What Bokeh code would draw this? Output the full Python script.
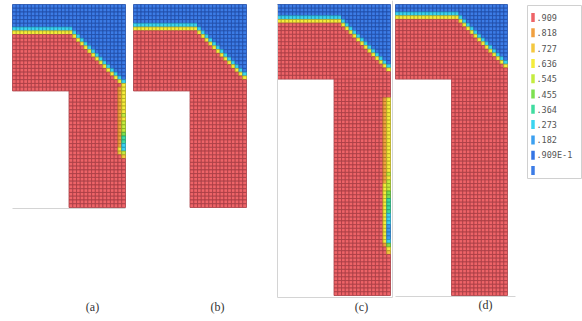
from bokeh.plotting import figure
from bokeh.models import Range1d, ColumnDataSource
from bokeh.embed import file_html
from bokeh.resources import INLINE
from bokeh.core.properties import value

# ---------------- colour scale (legend) ----------------
level_labels = [".909", ".818", ".727", ".636", ".545", ".455", ".364", ".273", ".182", ".909E-1", ""]
level_values = [0.909, 0.818, 0.727, 0.636, 0.545, 0.455, 0.364, 0.273, 0.182, 0.0909, 0.0]
level_colors = ["#ee6468", "#f0a040", "#f4c840", "#f4ec3c", "#c4ec40", "#7ee050",
                "#40dca0", "#3cd4f0", "#3ca0f0", "#3474e4", "#3c7ce6"]
line_colors = ["#a83c44", "#b07020", "#b08e20", "#b0a820", "#88a820", "#50a030",
               "#209c70", "#2094b0", "#2070b0", "#1c48a8", "#1f4ca8"]

panel_labels = ["(a)", "(b)", "(c)", "(d)"]

# ---------------- mesh description ----------------
mesh_cols = [30, 30, 30, 30]
mesh_rows = [54, 54, 78, 78]
arm_rows = [23, 23, 20, 20]
cut_cols = [15, 15, 15, 15]

# row index (from top) of the first transition cell of the free surface, per column
top_a = [6, 6, 6, 6, 6, 6, 6, 6, 6, 6, 6, 6, 6, 6, 6, 6, 7, 8, 9, 10, 11, 12, 13, 14, 15, 16, 17, 18, 19, 20]
top_b = [5, 5, 5, 5, 5, 5, 5, 5, 5, 5, 5, 5, 5, 5, 5, 5, 5, 6, 7, 8, 9, 10, 11, 12, 13, 14, 15, 16, 17, 18]
top_c = [3, 3, 3, 3, 3, 3, 3, 3, 3, 3, 3, 3, 3, 3, 3, 3, 3, 4, 5, 6, 7, 8, 9, 10, 11, 12, 13, 14, 15, 16]
top_d = [2, 2, 2, 2, 2, 2, 2, 2, 2, 2, 2, 2, 2, 2, 2, 2, 2, 3, 4, 5, 6, 7, 8, 9, 10, 11, 12, 13, 14, 15]

# wall film (volume fraction) along the right wall: column -> (first row, values)
film_a_col29 = [0.66, 0.66, 0.66, 0.66, 0.66, 0.64, 0.66, 0.6, 0.66, 0.6, 0.58, 0.55,
                0.5, 0.45, 0.38, 0.33, 0.33, 0.62, 0.8]
film_a_col28 = [0.86, 0.86, 0.86, 0.86, 0.86, 0.86, 0.86, 0.86, 0.86, 0.86, 0.86, 0.86,
                0.86, 0.86, 0.86, 0.86, 0.7, 0.8, 0.95]
film_c_col29 = [0.66, 0.66, 0.66, 0.66, 0.66, 0.66, 0.66, 0.66, 0.66, 0.66, 0.66, 0.66, 0.66, 0.66, 0.66, 0.66, 0.66,
                0.66, 0.66, 0.66, 0.6, 0.66, 0.6,
                0.55, 0.55, 0.5, 0.5, 0.45, 0.45, 0.4, 0.38,
                0.33, 0.3, 0.28, 0.25, 0.25, 0.22, 0.22, 0.3,
                0.5, 0.66, 0.8]
film_c_col28 = [0.86, 0.86, 0.86, 0.86, 0.86, 0.86, 0.86, 0.86, 0.86, 0.86, 0.86, 0.86,
                0.86, 0.86, 0.86, 0.86, 0.86, 0.86, 0.86, 0.86, 0.86, 0.86, 0.86,
                0.7, 0.7, 0.7, 0.7, 0.7, 0.7, 0.7, 0.7, 0.7, 0.7, 0.7, 0.7, 0.7, 0.7, 0.7, 0.7,
                0.86, 0.92, 0.95]
film_a = {29: (22, film_a_col29), 28: (22, film_a_col28)}
film_b = {}
film_c = {29: (25, film_c_col29), 28: (25, film_c_col28)}
film_d = {}

BLUE_V, CYAN_V, YELLOW_V, RED_V = 0.02, 0.3, 0.66, 0.95

# ---------------- layout (page pixels) ----------------
FIG_W, FIG_H = 582, 321
panel_x0 = [12, 133, 277, 395]
panel_y0 = [4, 4, 4, 4]
panel_w = [113, 113, 113, 112]
panel_h = [203, 203, 291, 291]
label_x = [92, 217, 361, 485]
label_y = [306, 306, 306, 304]

tops = [top_a, top_b, top_c, top_d]
films = [film_a, film_b, film_c, film_d]


def level_of(v):
    for idx, lv in enumerate(level_values):
        if v >= lv:
            return idx
    return len(level_values) - 1


p = figure(width=FIG_W, height=FIG_H, output_backend="svg", toolbar_location=None,
           x_range=Range1d(0, FIG_W), y_range=Range1d(FIG_H, 0),
           min_border=0, background_fill_color="white", border_fill_color="white")
p.axis.visible = False
p.grid.visible = False
p.outline_line_color = None

xs, ys, ws, hs, cs, ls = [], [], [], [], [], []
for k in range(4):
    nc, nr, arm, cut = mesh_cols[k], mesh_rows[k], arm_rows[k], cut_cols[k]
    x0, y0, w, h = panel_x0[k], panel_y0[k], panel_w[k], panel_h[k]
    cw, ch = w / nc, h / nr
    top, film = tops[k], films[k]
    for i in range(nc):
        for j in range(nr):
            if i < cut and j >= arm:
                continue
            t = top[i]
            if j < t:
                v = BLUE_V
            elif j == t:
                v = CYAN_V
            elif j == t + 1:
                v = YELLOW_V
            else:
                v = RED_V
            if i in film:
                r0, vals = film[i]
                if r0 <= j < r0 + len(vals):
                    v = vals[j - r0]
            lvl = level_of(v)
            xs.append(x0 + (i + 0.5) * cw)
            ys.append(y0 + (j + 0.5) * ch)
            ws.append(cw)
            hs.append(ch)
            cs.append(level_colors[lvl])
            ls.append(line_colors[lvl])

p.rect(x="x", y="y", width="w", height="h", fill_color="c", line_color="l",
       line_alpha=0.8, line_width=1,
       source=ColumnDataSource(dict(x=xs, y=ys, w=ws, h=hs, c=cs, l=ls)))

# faint frame lines of the pasted pictures
fx0 = [12, 277, 277, 392, 395]
fy0 = [208, 4, 297, 0, 296]
fx1 = [125, 277, 392, 392, 515]
fy1 = [208, 297, 297, 297, 296]
p.segment(x0=fx0, y0=fy0, x1=fx1, y1=fy1, line_color="#d4d4d4", line_width=1)

# panel labels
p.text(x=label_x, y=label_y, text=panel_labels, text_align="center", text_baseline="middle",
       text_font=value("Liberation Serif"), text_font_size="12px", text_color="#333333")

# legend box
LX0, LY0, LX1, LY1 = 527, 5, 581, 178
p.quad(left=[LX0], right=[LX1], top=[LY0], bottom=[LY1], fill_color="white",
       line_color="#d0d0d0", line_width=1)
n = len(level_labels)
leg_y = [17 + 15.3 * k for k in range(n)]
p.rect(x=[532.5] * n, y=leg_y, width=3.5, height=9, fill_color=level_colors, line_color=None)
p.text(x=[536] * n, y=leg_y, text=level_labels, text_baseline="middle", text_align="left",
       text_font=value("DejaVu Sans Mono"), text_font_size="8.5px", text_color="#555555")

open("out.html", "w").write(file_html(p, INLINE))
